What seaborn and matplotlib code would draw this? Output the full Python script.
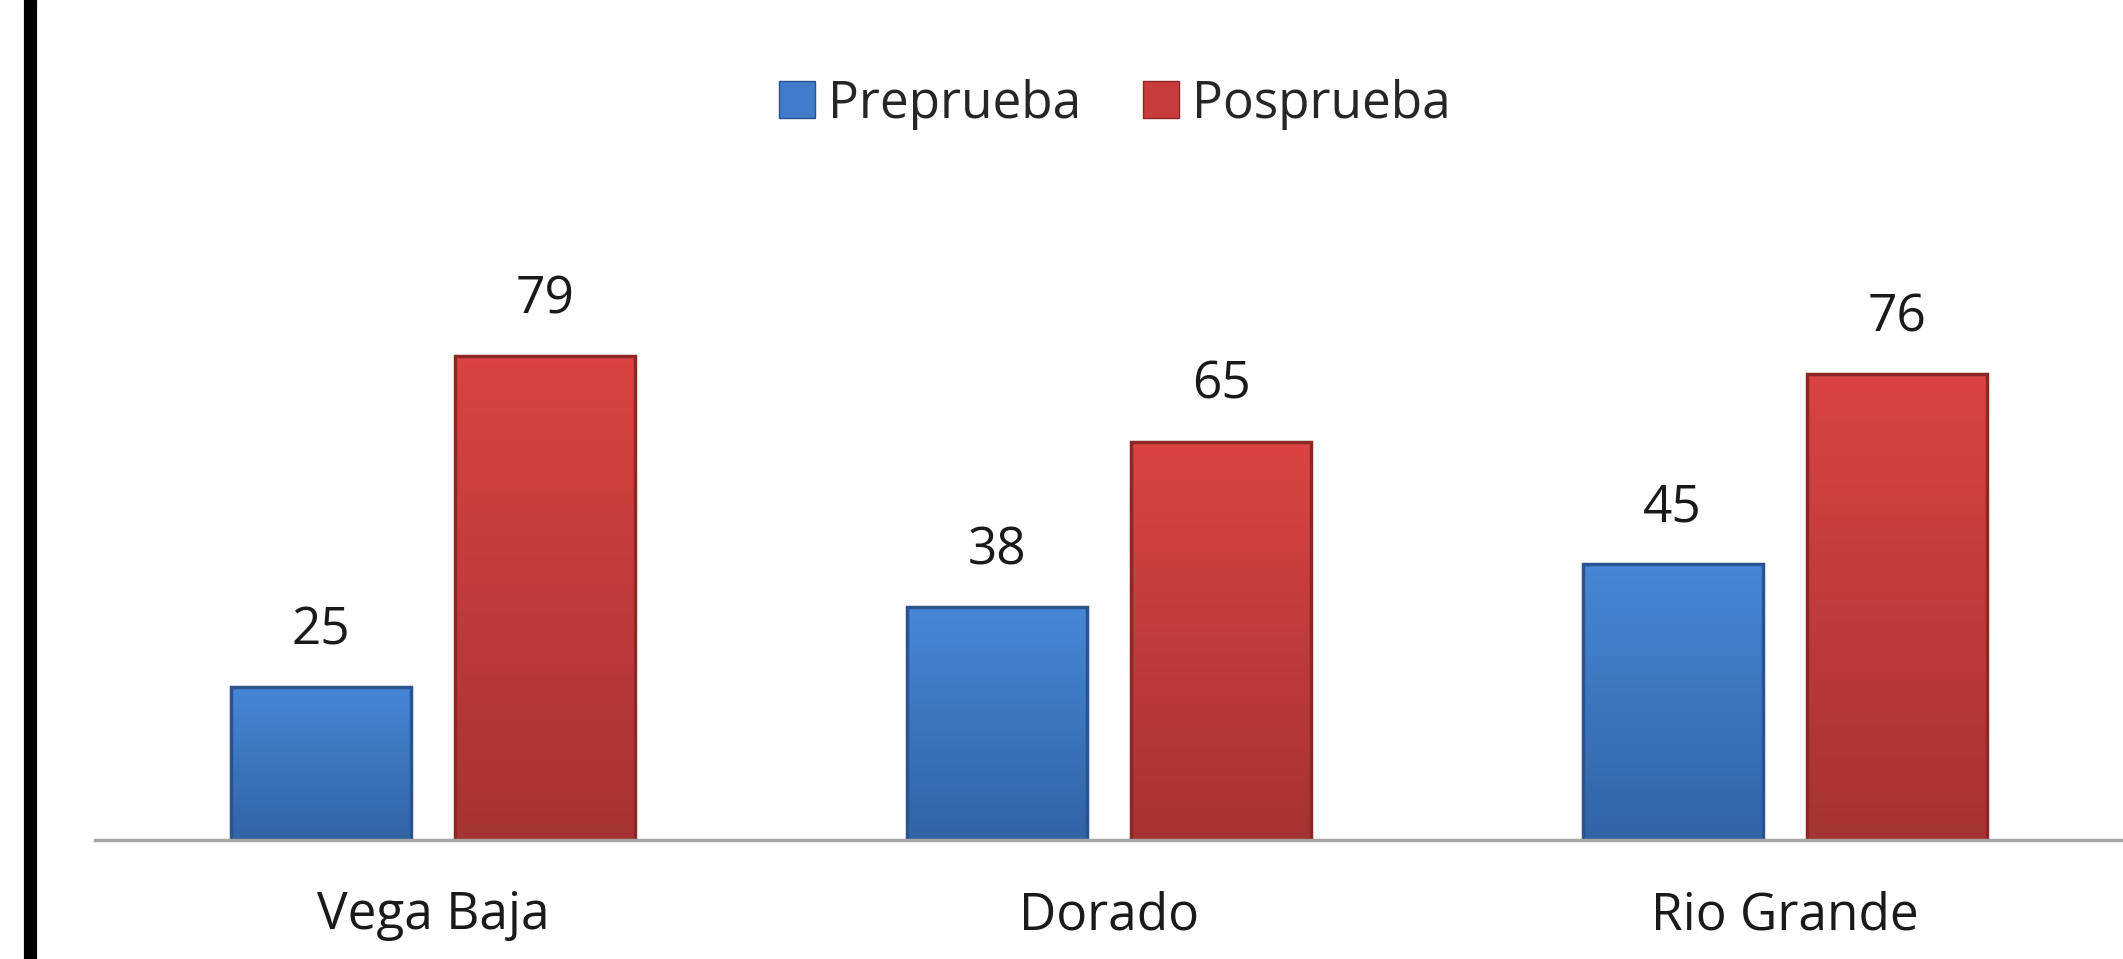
import matplotlib
matplotlib.use("Agg")
import matplotlib.pyplot as plt
from matplotlib.colors import to_rgb
from matplotlib.lines import Line2D
import numpy as np
import pandas as pd
import seaborn as sns

CATEGORIES = ["Vega Baja", "Dorado", "Rio Grande"]
SERIES = ["Preprueba", "Posprueba"]
PRE_VALUES = [25, 38, 45]
POS_VALUES = [79, 65, 76]

COLORS = {"Preprueba": "#3f7bc8", "Posprueba": "#c83d3b"}
# top / bottom shades used for the glossy fill
SHADES = {
    "Preprueba": ("#4688d6", "#3263a6"),
    "Posprueba": ("#da4442", "#a53331"),
}
EDGES = {"Preprueba": "#2a5490", "Posprueba": "#8e2826"}


def build_frame() -> pd.DataFrame:
    rows = []
    for cat, pre, pos in zip(CATEGORIES, PRE_VALUES, POS_VALUES):
        rows.append({"Municipio": cat, "Prueba": "Preprueba", "Valor": pre})
        rows.append({"Municipio": cat, "Prueba": "Posprueba", "Valor": pos})
    return pd.DataFrame(rows)


def shade_bars(ax, container, series) -> None:
    top, bottom = (np.array(to_rgb(c)) for c in SHADES[series])
    grad = np.linspace(0, 1, 256)[:, None]
    img = top[None, None, :] * (1 - grad[..., None]) + bottom[None, None, :] * grad[..., None]
    for patch in container.patches:
        x0, y0 = patch.get_x(), patch.get_y()
        w, h = patch.get_width(), patch.get_height()
        im = ax.imshow(img, extent=(x0, x0 + w, y0, y0 + h), origin="upper",
                       aspect="auto", zorder=patch.get_zorder() + 0.1)
        im.set_clip_path(patch)
        patch.set_edgecolor(EDGES[series])
        patch.set_linewidth(2.5)
        patch.set_zorder(patch.get_zorder() + 0.2)
        patch.set_facecolor("none")


def main() -> None:
    sns.set_theme(style="white")
    plt.rcParams["font.family"] = ["Open Sans", "DejaVu Sans"]

    df = build_frame()

    fig = plt.figure(figsize=(21.23, 9.59), dpi=100)
    ax = fig.add_axes([95 / 2123, 119 / 959, 1 - 95 / 2123, 613 / 959])

    sns.barplot(
        data=df, x="Municipio", y="Valor", hue="Prueba",
        hue_order=SERIES, palette=COLORS, width=0.665, gap=0.2,
        saturation=1, ax=ax, legend=False, edgecolor="none",
    )

    for container, series in zip(ax.containers, SERIES):
        shade_bars(ax, container, series)

    ax.set_xlim(-0.5, 2.5)
    ax.set_ylim(0, 100)
    ax.set_yticks([])
    ax.set_xlabel("")
    ax.set_ylabel("")
    for side in ["top", "right", "left"]:
        ax.spines[side].set_visible(False)
    ax.spines["bottom"].set_color("#a6a6a6")
    ax.spines["bottom"].set_linewidth(2.5)
    ax.spines["bottom"].set_zorder(5)
    ax.tick_params(axis="x", length=0, pad=36, labelsize=37, colors="#1a1a1a")

    for container in ax.containers:
        ax.bar_label(container, padding=22, fontsize=37, color="#1a1a1a")

    handles = [plt.Rectangle((0, 0), 1, 1, facecolor=COLORS[s], edgecolor=EDGES[s])
               for s in SERIES]
    fig.legend(
        handles, SERIES, loc="center", bbox_to_anchor=(1115 / 2123, 1 - 104 / 959),
        ncol=2, frameon=False, fontsize=37, handlelength=0.7, handleheight=0.75,
        handletextpad=0.25, columnspacing=1.2,
    )

    fig.add_artist(Line2D([30 / 2123, 30 / 2123], [0, 1], color="black", linewidth=9.5))

    fig.savefig("out.png", dpi=100)
    plt.close(fig)


if __name__ == "__main__":
    main()
